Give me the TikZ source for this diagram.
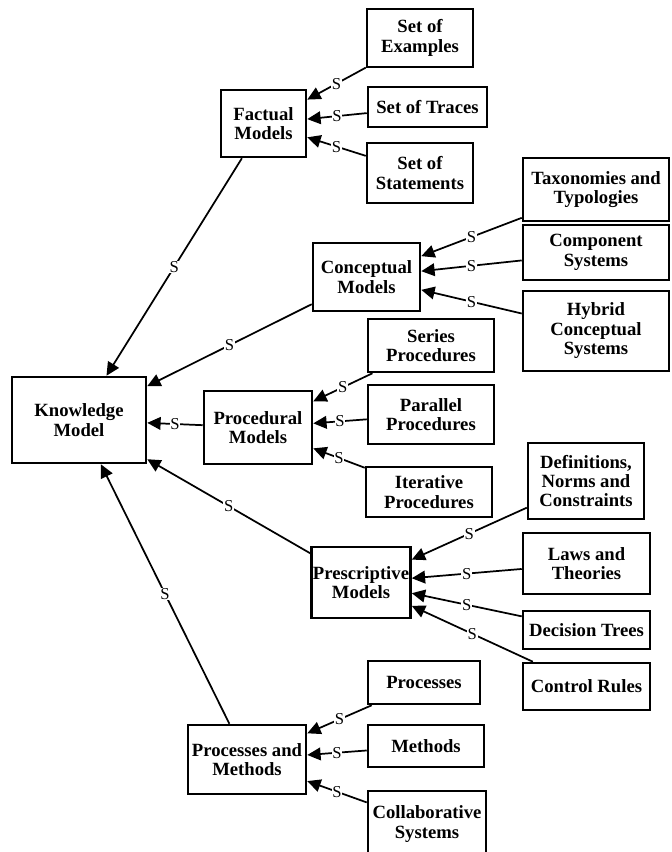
\documentclass[tikz,border=0pt]{standalone}
\usepackage{fontspec}
\setmainfont{Liberation Serif}
\usetikzlibrary{arrows.meta,positioning}

\tikzset{
  box/.style={draw, line width=1.9pt, align=center, inner sep=0pt,
    font=\bfseries\fontsize{14}{14.6}\selectfont},
  sz/.style 2 args={minimum width=#1*0.75pt, minimum height=#2*0.75pt},
  link/.style={line width=1.3pt, -{Triangle[length=10pt,width=9.5pt]}},
  slabel/.style={fill=white, inner sep=0.6pt, font=\fontsize{12.5}{12.5}\selectfont}
}

\begin{document}
\begin{tikzpicture}[x=0.75pt, y=-0.75pt]
    \useasboundingbox (0,0) rectangle (671,852);

    % Blocks
    \node[box, sz={134}{86}] (knowledge) at (79,420) {Knowledge\\Model};

    \node[box, sz={85}{67}] (factual) at (263.5,123.5) {Factual\\Models};
    \node[box, sz={106}{58}] (examples) at (420,38) {Set of\\Examples};
    \node[box, sz={119}{40}] (traces) at (427.5,107) {Set of Traces};
    \node[box, sz={106}{60}] (statements) at (420,173) {Set of\\Statements};

    \node[box, sz={107}{68}] (conceptual) at (366.5,277) {Conceptual\\Models};
    \node[box, sz={146}{63}] (taxonomies) at (596,189.5) {Taxonomies and\\Typologies};
    \node[box, sz={146}{55}] (component) at (596,252.5) {Component\\Systems};
    \node[box, sz={146}{80}] (hybrid) at (596,331) {Hybrid\\Conceptual\\Systems};

    \node[box, sz={108}{73}] (procedural) at (258,427.5) {Procedural\\Models};
    \node[box, sz={126}{53}] (series) at (431,345.5) {Series\\Procedures};
    \node[box, sz={126}{59}] (parallel) at (431,414.5) {Parallel\\Procedures};
    \node[box, sz={126}{50}] (iterative) at (429,492) {Iterative\\Procedures};

    \node[box, sz={99}{71}] (prescriptive) at (361,582.5) {Prescriptive\\Models};
    \node[box, sz={116}{76}] (definitions) at (586,481) {Definitions,\\Norms and\\Constraints};
    \node[box, sz={127}{61}] (laws) at (586.5,563.5) {Laws and\\Theories};
    \node[box, sz={127}{38}] (decision) at (586.5,630) {Decision Trees};
    \node[box, sz={127}{47}] (control) at (586.5,686.5) {Control Rules};

    \node[box, sz={118}{69}] (procmeth) at (247,759.5) {Processes and\\Methods};
    \node[box, sz={112}{43}] (processes) at (424,682.5) {Processes};
    \node[box, sz={116}{42}] (methods) at (426,746) {Methods};
    \node[box, sz={118}{66}] (collab) at (427,824) {Collaborative\\Systems};

    % Connections
    \draw[link] (factual) -- node[slabel] {S} (knowledge);
    \draw[link] (conceptual) -- node[slabel] {S} (knowledge);
    \draw[link] (procedural) -- node[slabel] {S} (knowledge);
    \draw[link] (prescriptive) -- node[slabel] {S} (knowledge);
    \draw[link] (procmeth) -- node[slabel] {S} (knowledge);

    \draw[link] (examples) -- node[slabel] {S} (factual);
    \draw[link] (traces) -- node[slabel] {S} (factual);
    \draw[link] (statements) -- node[slabel] {S} (factual);

    \draw[link] (taxonomies) -- node[slabel] {S} (conceptual);
    \draw[link] (component) -- node[slabel] {S} (conceptual);
    \draw[link] (hybrid) -- node[slabel] {S} (conceptual);

    \draw[link] (series) -- node[slabel] {S} (procedural);
    \draw[link] (parallel) -- node[slabel] {S} (procedural);
    \draw[link] (iterative) -- node[slabel] {S} (procedural);

    \draw[link] (definitions) -- node[slabel] {S} (prescriptive);
    \draw[link] (laws) -- node[slabel] {S} (prescriptive);
    \draw[link] (decision) -- node[slabel] {S} (prescriptive);
    \draw[link] (control) -- node[slabel] {S} (prescriptive);

    \draw[link] (processes) -- node[slabel] {S} (procmeth);
    \draw[link] (methods) -- node[slabel] {S} (procmeth);
    \draw[link] (collab) -- node[slabel] {S} (procmeth);
\end{tikzpicture}
\end{document}
